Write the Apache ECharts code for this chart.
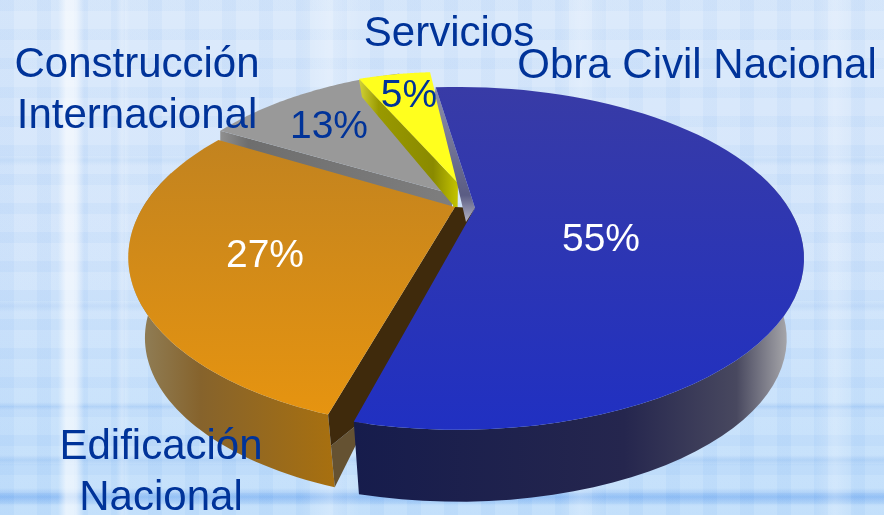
<!DOCTYPE html>
<html>
<head>
<meta charset="utf-8">
<title>Obra</title>
<script src="https://cdn.jsdelivr.net/npm/echarts@6/dist/echarts.min.js"></script>
<style>
html, body { margin: 0; padding: 0; }
#chart {
  width: 884px; height: 515px; overflow: hidden;
  background:
    linear-gradient(90deg, transparent 58px, rgba(255,255,255,.6) 66px, rgba(255,255,255,.6) 76px, transparent 84px),
    linear-gradient(90deg, transparent 116px, rgba(255,255,255,.3) 122px, transparent 130px),
    linear-gradient(90deg, transparent 560px, rgba(255,255,255,.22) 580px, transparent 610px),
    linear-gradient(90deg, transparent 815px, rgba(255,255,255,.22) 835px, transparent 855px),
    linear-gradient(90deg, transparent 180px 300px, rgba(255,255,255,.25) 330px, transparent 360px),
    repeating-linear-gradient(90deg, rgba(120,170,235,.06) 0 14px, rgba(255,255,255,.06) 14px 37px),
    repeating-linear-gradient(180deg, rgba(120,170,235,.06) 0 11px, rgba(255,255,255,.06) 11px 29px),
    linear-gradient(180deg, transparent 155px, rgba(110,165,235,.14) 160px, transparent 166px),
    linear-gradient(180deg, transparent 300px, rgba(110,165,235,.16) 306px, transparent 312px),
    linear-gradient(180deg, transparent 402px, rgba(100,160,235,.22) 406px, transparent 410px),
    linear-gradient(180deg, transparent 455px, rgba(100,160,235,.25) 460px, transparent 466px),
    linear-gradient(180deg, transparent 488px, rgba(70,140,235,.38) 497px, transparent 506px),
    linear-gradient(180deg, #d8e8fb 0%, #cfe3fb 50%, #bcdcfb 100%);
}
</style>
</head>
<body>
<div id="chart"></div>
<script>
// datos del grafico
const categories = ["Obra Civil Nacional", "Edificación\nNacional", "Construcción\nInternacional", "Servicios"];
const values = [55, 27, 13, 5];

// layout de cada porcion (perspectiva hecha a mano, echarts no tiene pie 3d)
const arcCenter = [[458, 208], [461, 207], [476, 190], [446, 193]];
const apexPos = [[475, 208], [455, 207], [452, 194], [458, 183]];
const radiusX = [1.04, 1, 1, 0.93];
const sliceTurn = [0, 4.5, 5, 1];
const spanStretch = [1, 1.047, 1, 1];
const namePos = [[697, 66], [161, 473], [137, 91], [449, 34]];
const pctPos = [[601, 240], [265, 256], [329, 127], [409, 96]];
const pctColor = ["#fff", "#fff", "#003399", "#003399"];
const paintZ = [40, 30, 10, 20];
const startDeg = -5;
const A = 318, B = 156.6, K = 0.294;
const WALL_SCALE = 0.95, WALL_DY = 83;

const total = values.reduce((a, b) => a + b, 0);

function rimPoint(i, deg) {
  const t = deg * Math.PI / 180;
  const x = Math.sin(t), y = -Math.cos(t);
  const d = 1 - K * y;
  return [arcCenter[i][0] + radiusX[i] * A * x / d, arcCenter[i][1] + B * y / d];
}
function lowPoint(i, p) {
  const c = arcCenter[i];
  return [c[0] + (p[0] - c[0]) * WALL_SCALE, c[1] + (p[1] - c[1]) * WALL_SCALE + WALL_DY];
}
function grad(x0, y0, x1, y1, stops) {
  return new echarts.graphic.LinearGradient(x0, y0, x1, y1,
    stops.map(s => ({ offset: s[0], color: s[1] })));
}
function poly(points, fill, z2) {
  return { type: "polygon", shape: { points }, style: { fill }, z2 };
}
function mix(p, q, f) {
  return [p[0] + (q[0] - p[0]) * f, p[1] + (q[1] - p[1]) * f];
}

const topFill = [
  grad(0, 0, 0, 1, [[0, "#383ba6"], [1, "#2030c2"]]),
  grad(0, 0, 0, 1, [[0, "#c2831f"], [1, "#e69410"]]),
  "#999999",
  "#ffff1e"
];

function renderItem(params, api) {
  const i = params.dataIndex;
  let before = 0;
  for (let k = 0; k < i; k++) before += values[k];
  const a0 = startDeg + sliceTurn[i] + before / total * 360;
  const a1 = a0 + api.value(0) / total * 360 * spanStretch[i];
  const rim = [];
  for (let n = 0; n <= 70; n++) rim.push(rimPoint(i, a0 + (a1 - a0) * n / 70));
  const apex = apexPos[i];
  const z = paintZ[i];
  const kids = [];

  if (i === 0) {
    // pared exterior azul y la cara interior gris
    const front = rim.filter(p => p[1] > 170);
    kids.push(poly(front.concat(front.map(p => lowPoint(i, p)).reverse()),
      grad(0, 0, 1, 0, [[0, "#161c4c"], [0.6, "#25264e"], [0.85, "#48485f"], [0.96, "#a4a4a8"], [1, "#8a8a90"]]), z));
    const s = rim[0];
    kids.push(poly([s, apex, [apex[0] - 9, apex[1] + 14], [apex[0] - 18, apex[1] - 25], [s[0] - 1, s[1] + 6]],
      grad(0, 0, 0, 1, [[0, "#8e90aa"], [0.8, "#5a5c84"], [1, "#b4b4c4"]]), z));
  } else if (i === 1) {
    const front = rim.filter(p => p[1] > 170);
    kids.push(poly(front.concat(front.map(p => lowPoint(i, p)).reverse()),
      grad(0, 0, 1, 0, [[0, "#c8c0aa"], [0.08, "#8f7c54"], [0.35, "#86632c"], [1, "#a8700f"]]), z));
    // cara del corte, oscura arriba y mas clara abajo; el azul tapa lo que sobra
    const r = rim[0], low = lowPoint(i, r), mid = mix(r, low, 0.43);
    const under = [r[0] + 44, r[1] - 2];
    kids.push(poly([low, mid, under], "#655232", z));
    kids.push(poly([apex, r, mid, under, apexPos[0]], "#3f2a0c", z));
  } else if (i === 2) {
    const s = rim[0];
    kids.push(poly([s, apex, [apex[0], apex[1] + 24], [s[0], s[1] + 14]],
      grad(0, 0, 1, 0, [[0, "#909090"], [0.12, "#6e6e6e"], [1, "#7e7e7e"]]), z));
  } else {
    const s = rim[0];
    kids.push(poly([s, apex, [apex[0] - 1, apex[1] + 55], [apex[0] - 5, apex[1] + 22], [s[0] + 3, s[1] + 18]],
      grad(0, 0, 1, 0, [[0, "#d2d238"], [0.2, "#999900"], [0.75, "#8a8a00"], [1, "#c4c400"]]), z));
  }
  kids.push(poly([apex].concat(rim), topFill[i], z + 1));

  kids.push({
    type: "text", z2: 100,
    style: {
      text: categories[i], x: namePos[i][0], y: namePos[i][1],
      fill: "#003399", font: "42px 'Liberation Sans'", align: "center", verticalAlign: "middle", lineHeight: 51
    }
  });
  kids.push({
    type: "text", z2: 100,
    style: {
      text: api.value(0) + "%", x: pctPos[i][0], y: pctPos[i][1],
      fill: pctColor[i], font: "39px 'Liberation Sans'", align: "center", verticalAlign: "middle"
    }
  });
  return { type: "group", children: kids };
}

const chart = echarts.init(document.getElementById("chart"), null, { renderer: "canvas" });
chart.setOption({
  backgroundColor: "transparent",
  animation: false,
  series: [{
    type: "custom",
    coordinateSystem: "none",
    renderItem,
    data: values.map(v => [v]),
    silent: true
  }]
});
</script>
</body>
</html>
